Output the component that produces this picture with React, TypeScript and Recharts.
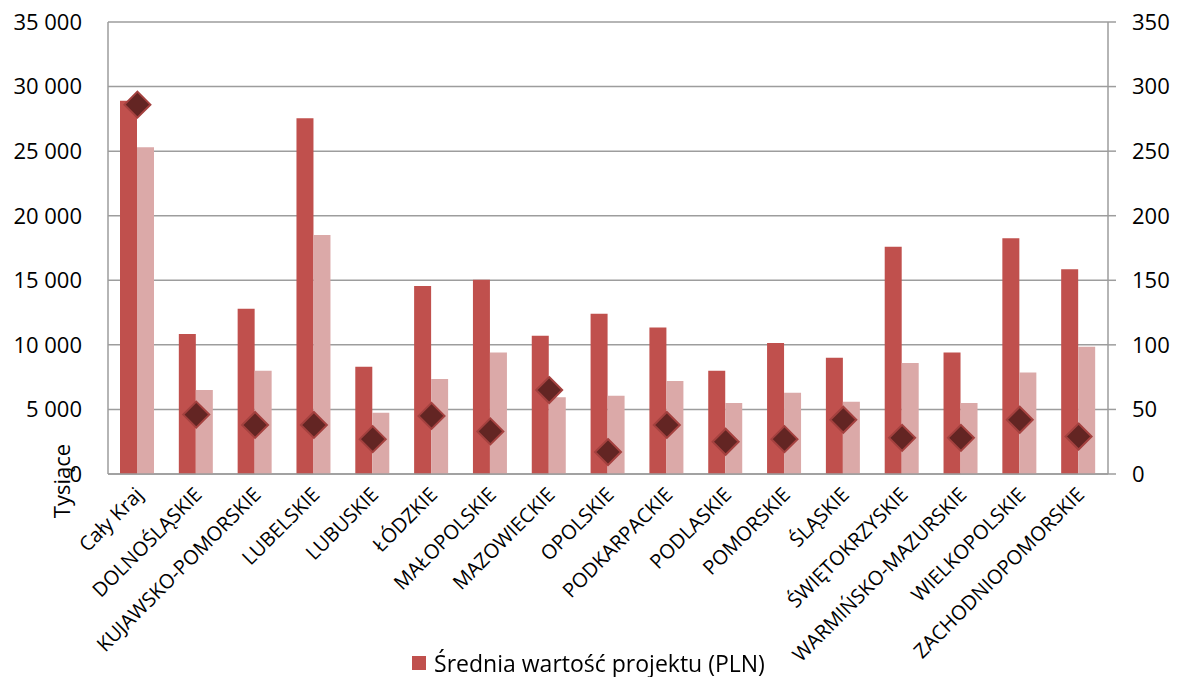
import { ComposedChart, Bar, Line, XAxis, YAxis, CartesianGrid } from "recharts";

const categories = [
  "Cały Kraj",
  "DOLNOŚLĄSKIE",
  "KUJAWSKO-POMORSKIE",
  "LUBELSKIE",
  "LUBUSKIE",
  "ŁÓDZKIE",
  "MAŁOPOLSKIE",
  "MAZOWIECKIE",
  "OPOLSKIE",
  "PODKARPACKIE",
  "PODLASKIE",
  "POMORSKIE",
  "ŚLĄSKIE",
  "ŚWIĘTOKRZYSKIE",
  "WARMIŃSKO-MAZURSKIE",
  "WIELKOPOLSKIE",
  "ZACHODNIOPOMORSKIE",
];

// thousands PLN (left axis)
const sredniaWartosc = [28900, 10850, 12800, 27550, 8300, 14550, 15050, 10700, 12400, 11350, 8000, 10150, 9000, 17600, 9400, 18250, 15850];
const drugaWartosc = [25300, 6500, 8000, 18500, 4750, 7350, 9400, 5950, 6050, 7200, 5500, 6300, 5600, 8600, 5500, 7850, 9850];
// right axis
const liczba = [286, 46, 38, 38, 27, 45, 33, 65, 17, 38, 25, 27, 42, 28, 28, 42, 29];

const leftTicks = [0, 5000, 10000, 15000, 20000, 25000, 30000, 35000];
const rightTicks = [0, 50, 100, 150, 200, 250, 300, 350];

const data = categories.map((name, i) => ({
  name,
  srednia: sredniaWartosc[i],
  druga: drugaWartosc[i],
  liczba: liczba[i],
}));

const FONT = "'Open Sans', sans-serif";
const AXIS = "#9d9d9d";

const fmt = (v: number) => String(v).replace(/\B(?=(\d{3})+(?!\d))/g, " ");

const CategoryTick = ({ x, y, payload }: any) => (
  <text
    x={x + 7}
    y={y + 14}
    transform={`rotate(-45, ${x + 7}, ${y + 14})`}
    textAnchor="end"
    fontSize={20}
    fontFamily={FONT}
    fill="#000"
  >
    {payload.value}
  </text>
);

const Diamond = ({ cx, cy }: any) => {
  if (cx == null || cy == null) return null;
  const r = 13;
  return (
    <polygon
      points={`${cx},${cy - r} ${cx + r},${cy} ${cx},${cy + r} ${cx - r},${cy}`}
      fill="#632523"
      stroke="#a4413f"
      strokeWidth={2}
    />
  );
};

export default function App() {
  return (
    <div style={{ position: "fixed", left: 0, top: 0, width: 1177, height: 677, background: "#fff" }}>
      <ComposedChart
        width={1177}
        height={677}
        data={data}
        margin={{ top: 22, right: 0, bottom: 0, left: 0 }}
        barGap={0}
      >
        <CartesianGrid vertical={false} stroke={AXIS} strokeWidth={1.5} yAxisId="left" />
        <XAxis
          dataKey="name"
          height={203}
          interval={0}
          tick={<CategoryTick />}
          tickLine={false}
          axisLine={{ stroke: AXIS, strokeWidth: 1.5 }}
        />
        <YAxis
          yAxisId="left"
          width={108}
          domain={[0, 35000]}
          ticks={leftTicks}
          tickFormatter={fmt}
          tickLine={false}
          tickSize={8}
          tickMargin={18}
          axisLine={{ stroke: AXIS, strokeWidth: 1.5 }}
          tick={{ fontSize: 22, fontFamily: FONT, fill: "#000" }}
          label={() => (
            <text
              x={70}
              y={481}
              transform="rotate(-90, 70, 481)"
              textAnchor="middle"
              fontSize={22}
              fontFamily={FONT}
              fill="#000"
            >
              Tysiące
            </text>
          )}
        />
        <YAxis
          yAxisId="right"
          orientation="right"
          width={69}
          domain={[0, 350]}
          ticks={rightTicks}
          tickSize={8}
          tickMargin={16}
          tickLine={{ stroke: AXIS, strokeWidth: 1.5 }}
          axisLine={{ stroke: AXIS, strokeWidth: 1.5 }}
          tick={{ fontSize: 22, fontFamily: FONT, fill: "#000", textAnchor: "start" }}
        />
        <Bar yAxisId="left" dataKey="srednia" fill="#c0504d" barSize={17} isAnimationActive={false} />
        <Bar yAxisId="left" dataKey="druga" fill="#dba9a8" barSize={17} isAnimationActive={false} />
        <Line
          yAxisId="right"
          dataKey="liczba"
          stroke="none"
          dot={<Diamond />}
          activeDot={false}
          isAnimationActive={false}
        />
      </ComposedChart>
      <div
        style={{
          position: "absolute",
          left: 0,
          top: 647,
          width: 1177,
          display: "flex",
          justifyContent: "center",
          alignItems: "center",
          fontFamily: FONT,
          fontSize: 23,
          color: "#000",
        }}
      >
        <span style={{ display: "inline-block", width: 14, height: 14, background: "#c0504d", marginRight: 8, marginLeft: 0 }} />
        <span>Średnia wartość projektu (PLN)</span>
      </div>
    </div>
  );
}
